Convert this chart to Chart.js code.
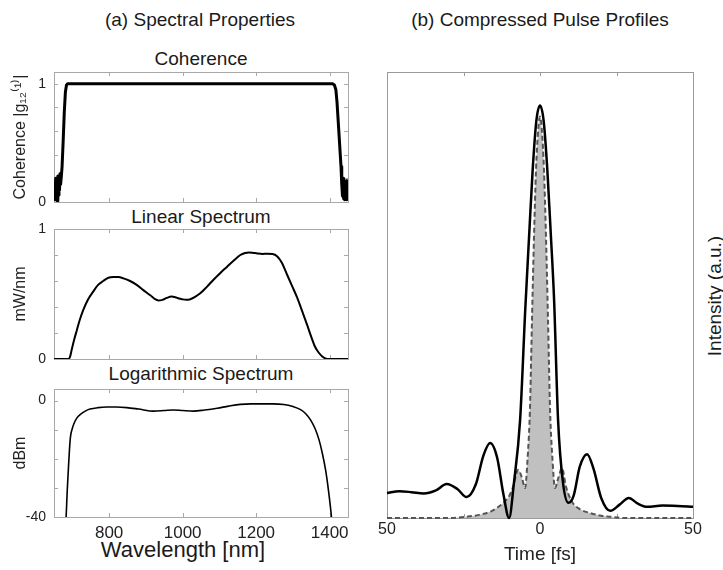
<!DOCTYPE html>
<html>
<head>
<meta charset="utf-8">
<script src="https://cdn.jsdelivr.net/npm/chart.js@4.4.1/dist/chart.umd.min.js"></script>
<style>
  html, body { margin: 0; padding: 0; background: #fff; }
  #wrap { position: relative; width: 723px; height: 570px; overflow: hidden;
          font-family: "Liberation Sans", Arial, sans-serif; color: #1a1a1a; }
  canvas { position: absolute; }
  .t { position: absolute; white-space: nowrap; line-height: 1; font-size: 19px;
       transform: translate(-50%, -50%); }
  .rot { transform: translate(-50%, -50%) rotate(-90deg); }
</style>
</head>
<body>
<div id="wrap">
  <div class="t" style="left:200px;top:19px">(a) Spectral Properties</div>
  <div class="t" style="left:540px;top:19px">(b) Compressed Pulse Profiles</div>
  <div class="t" style="left:201px;top:58px">Coherence</div>
  <div class="t" style="left:201px;top:216px">Linear Spectrum</div>
  <div class="t" style="left:201px;top:373px">Logarithmic Spectrum</div>
  <div class="t" style="left:183px;top:550px;font-size:22px">Wavelength [nm]</div>
  <div class="t rot" style="left:714px;top:296px">Intensity (a.u.)</div>
  <canvas id="cCoh" width="360" height="179" style="left:0;top:40px"></canvas>
  <canvas id="cLin" width="360" height="166" style="left:0;top:210px"></canvas>
  <canvas id="cLog" width="360" height="200" style="left:0;top:370px"></canvas>
  <canvas id="cPulse" width="363" height="530" style="left:360px;top:40px"></canvas>
</div>
<script>
// ---- tick positions and labels ----
const wavelengthTicks = [800, 1000, 1200, 1400];
const wavelengthTickLabels = ['800', '1000', '1200', '1400'];
const unitTicks = [0, 0.2, 0.4, 0.6, 0.8, 1];
const unitTickLabels = ['0', '', '', '', '', '1'];
const dbmTicks = [-40, -30, -20, -10, 0];
const dbmTickLabels = ['-40', '', '', '', '0'];
const timeTicks = [-50, -25, 0, 25, 50];
const timeTickLabels = ['50', '', '0', '', '50'];

// ---- first-order coherence |g12(1)| vs wavelength ----
const cohWavelength = [650, 651.5, 653, 654.5, 656, 657.5, 659, 660.5, 662, 663.5, 665, 666.5, 668,
  670, 672, 675, 678, 681, 684, 687, 700, 800, 900, 1000, 1100, 1200, 1300, 1400,
  1408, 1413, 1417, 1420, 1424, 1428, 1431, 1433, 1435,
  1436.5, 1438, 1439.5, 1441, 1442.5, 1444, 1445.5, 1447, 1448.5, 1450];
const cohValue = [0.03, 0.17, 0.02, 0.2, 0.05, 0.14, 0.01, 0.22, 0.06, 0.18, 0.1, 0.24, 0.15,
  0.22, 0.3, 0.52, 0.76, 0.93, 0.99, 1, 1, 1, 1, 1, 1, 1, 1, 1,
  1, 0.99, 0.95, 0.85, 0.65, 0.45, 0.3, 0.15, 0.05,
  0.2, 0.03, 0.17, 0.02, 0.12, 0.04, 0.18, 0.02, 0.14, 0.03];

// ---- linear spectrum (mW/nm) ----
const linWavelength = [650, 680, 689, 694, 698, 705, 712, 720, 730, 743,
  757, 770, 784, 798, 812, 825, 839, 857, 875, 893,
  912, 925, 934, 945, 957, 970, 980, 990, 998, 1010,
  1021, 1035, 1048, 1066, 1084, 1102, 1121, 1140, 1157, 1170,
  1180, 1190, 1203, 1218, 1230, 1245, 1257, 1270, 1284, 1298,
  1312, 1325, 1339, 1350, 1361, 1370, 1380, 1390, 1400, 1450];
const linPower = [0, 0, 0, 0.02, 0.07, 0.15, 0.22, 0.30, 0.38, 0.46,
  0.52, 0.57, 0.60, 0.625, 0.63, 0.63, 0.62, 0.60, 0.57, 0.53,
  0.49, 0.46, 0.45, 0.455, 0.47, 0.48, 0.475, 0.465, 0.46, 0.455,
  0.46, 0.48, 0.505, 0.555, 0.61, 0.66, 0.71, 0.76, 0.80, 0.815,
  0.82, 0.818, 0.812, 0.808, 0.81, 0.808, 0.79, 0.74, 0.65, 0.56,
  0.47, 0.37, 0.26, 0.17, 0.09, 0.05, 0.02, 0.003, 0, 0];

// ---- logarithmic spectrum (dBm) ----
const logWavelength = [678, 683, 686, 689, 692, 695, 700, 705, 712, 721,
  735, 748, 770, 793, 820, 848, 880, 921, 950, 975,
  1000, 1030, 1060, 1094, 1125, 1157, 1185, 1212, 1245, 1275,
  1300, 1321, 1335, 1348, 1360, 1371, 1380, 1389, 1397, 1405, 1410];
const logPower = [-52, -40, -31, -23.8, -17, -12.3, -9.5, -7.7, -6, -4.8,
  -3.6, -2.9, -2.4, -2.2, -2.2, -2.4, -2.9, -3.6, -3.4, -3.2,
  -3.4, -3.6, -3.2, -2.6, -1.9, -1.3, -1.1, -1.1, -1.1, -1.3,
  -2.0, -3.1, -4.5, -6.6, -9.5, -13.4, -18, -23.8, -31, -40, -48];

// ---- compressed pulse, solid trace ----
const pulseTimeA = [-50, -46, -42, -38, -34, -30.5, -27, -24, -21, -18.5,
  -16.3, -14, -12, -10.1, -8.5, -6.5, -4.8, -3.5, -2.4, -1.2,
  0, 1.2, 2.4, 3.5, 4.6, 5.9, 7.5, 9.3, 11, 13,
  15.4, 17.5, 20, 23, 26, 29, 32, 35, 40, 45, 50];
const pulseIntensityA = [0.056, 0.06, 0.058, 0.055, 0.062, 0.076, 0.065, 0.047, 0.075, 0.14,
  0.168, 0.135, 0.055, 0, 0.08, 0.22, 0.47, 0.64, 0.78, 0.89,
  0.925, 0.89, 0.78, 0.64, 0.49, 0.22, 0.08, 0.034, 0.05, 0.115,
  0.143, 0.11, 0.045, 0.016, 0.03, 0.045, 0.032, 0.025, 0.028, 0.027, 0.025];

// ---- compressed pulse, dashed trace (shaded) ----
const pulseTimeB = [-50, -30, -25, -20, -16, -12, -10, -8.8, -7.1, -5.9,
  -4.9, -4, -3.3, -2.6, -2, -1.3, -0.6, 0, 0.6, 1.3,
  2, 2.6, 3.3, 4, 4.9, 6, 7.2, 8.5, 10.5, 13,
  16.5, 20, 23, 27, 50];
const pulseIntensityB = [0, 0, 0.002, 0.007, 0.015, 0.034, 0.05, 0.07, 0.108, 0.09,
  0.067, 0.14, 0.24, 0.45, 0.62, 0.78, 0.87, 0.90, 0.87, 0.78,
  0.62, 0.45, 0.24, 0.14, 0.067, 0.09, 0.112, 0.07, 0.036, 0.02,
  0.011, 0.005, 0.003, 0, 0];

const FONT = '"Liberation Sans", Arial, sans-serif';
Chart.defaults.font.family = FONT;
Chart.defaults.color = '#222';

const toPoints = (xs, ys) => xs.map((x, i) => ({ x: x, y: ys[i] }));

// Frame around the plot area with short inward tick marks on every side.
const framePlugin = {
  id: 'frame',
  beforeDatasetsDraw(chart, args, opts) {
    const { ctx, chartArea: a } = chart;
    const L = opts.len || 4;
    ctx.save();
    ctx.strokeStyle = opts.color || '#a0a0a0';
    ctx.lineWidth = 1;
    ctx.beginPath();
    if (opts.xMarks) {
      chart.scales.x.ticks.forEach(t => {
        const x = Math.round(chart.scales.x.getPixelForValue(t.value)) + 0.5;
        ctx.moveTo(x, a.top); ctx.lineTo(x, a.top + L);
        ctx.moveTo(x, a.bottom); ctx.lineTo(x, a.bottom - L);
      });
    }
    if (opts.yMarks) {
      chart.scales.y.ticks.forEach(t => {
        const y = Math.round(chart.scales.y.getPixelForValue(t.value)) + 0.5;
        ctx.moveTo(a.left, y); ctx.lineTo(a.left + L, y);
        ctx.moveTo(a.right, y); ctx.lineTo(a.right - L, y);
      });
    }
    ctx.stroke();
    ctx.strokeRect(Math.round(a.left) + 0.5, Math.round(a.top) + 0.5,
                   Math.round(a.right - a.left), Math.round(a.bottom - a.top));
    ctx.restore();
  }
};
Chart.register(framePlugin);

const baseOptions = () => ({
  responsive: false,
  animation: false,
  events: [],
  plugins: { legend: { display: false }, tooltip: { enabled: false } }
});

function spectrumPanel(id, cfg) {
  const opts = baseOptions();
  opts.layout = { padding: { left: 0, right: 12, top: cfg.padTop, bottom: cfg.padBottom } };
  opts.plugins.frame = { xMarks: true, yMarks: true, len: 4, color: '#a8a8a8' };
  opts.scales = {
    x: {
      type: 'linear', min: 650, max: 1450,
      afterBuildTicks: s => { s.ticks = wavelengthTicks.map(v => ({ value: v })); },
      afterFit: s => { s.height = cfg.xHeight; },
      grid: { display: false, drawTicks: false },
      border: { display: false },
      ticks: {
        display: cfg.showX, padding: 6, font: { size: 17 },
        callback: (v, i) => wavelengthTickLabels[i]
      }
    },
    y: {
      type: 'linear', min: cfg.yMin, max: cfg.yMax,
      afterBuildTicks: s => { s.ticks = cfg.yTicks.map(v => ({ value: v })); },
      afterFit: s => { s.width = 54; },
      grid: { display: false, drawTicks: false },
      border: { display: false },
      ticks: { padding: 8, font: { size: 14 }, callback: (v, i) => cfg.yLabels[i] },
      title: { display: true, text: cfg.yTitle, font: { size: 16 }, padding: { top: 11, bottom: 0 } }
    }
  };
  return new Chart(document.getElementById(id), {
    type: 'line',
    data: {
      datasets: [{
        data: toPoints(cfg.xs, cfg.ys),
        borderColor: '#000',
        borderWidth: cfg.lineWidth,
        pointRadius: 0,
        fill: false,
        tension: 0,
        cubicInterpolationMode: cfg.smooth ? 'monotone' : 'default',
        borderJoinStyle: 'round'
      }]
    },
    options: opts
  });
}

spectrumPanel('cCoh', {
  xs: cohWavelength, ys: cohValue, lineWidth: 3, smooth: false,
  yMin: 0, yMax: 1.1, yTicks: unitTicks, yLabels: unitTickLabels,
  yTitle: 'Coherence |g\u2081\u2082\u207D\u00B9\u207E|',
  padTop: 32, padBottom: 17, xHeight: 0, showX: false
});

spectrumPanel('cLin', {
  xs: linWavelength, ys: linPower, lineWidth: 2, smooth: true,
  yMin: 0, yMax: 1, yTicks: unitTicks, yLabels: unitTickLabels,
  yTitle: 'mW/nm',
  padTop: 19, padBottom: 17, xHeight: 0, showX: false
});

spectrumPanel('cLog', {
  xs: logWavelength, ys: logPower, lineWidth: 1.6, smooth: true,
  yMin: -40, yMax: 4, yTicks: dbmTicks, yLabels: dbmTickLabels,
  yTitle: 'dBm',
  padTop: 19, padBottom: 0, xHeight: 53, showX: true
});

// Pulse profiles panel
(function () {
  const opts = baseOptions();
  opts.layout = { padding: { left: 27, right: 30, top: 32, bottom: 0 } };
  opts.plugins.frame = { xMarks: true, yMarks: false, len: 4, color: '#9a9a9a' };
  opts.scales = {
    x: {
      type: 'linear', min: -50, max: 50,
      afterBuildTicks: s => { s.ticks = timeTicks.map(v => ({ value: v })); },
      afterFit: s => { s.height = 52; },
      grid: { display: false, drawTicks: false },
      border: { display: false },
      ticks: { padding: 2, font: { size: 16 }, maxRotation: 0, callback: (v, i) => timeTickLabels[i] },
      title: { display: true, text: 'Time [fs]', font: { size: 19 }, padding: { top: 0, bottom: 4 } }
    },
    y: { type: 'linear', min: 0, max: 1, display: false }
  };
  new Chart(document.getElementById('cPulse'), {
    type: 'line',
    data: {
      datasets: [
        {
          data: toPoints(pulseTimeA, pulseIntensityA),
          borderColor: '#000', borderWidth: 2.5, pointRadius: 0,
          fill: false, cubicInterpolationMode: 'monotone', order: 0, clip: 3
        },
        {
          data: toPoints(pulseTimeB, pulseIntensityB),
          borderColor: '#555', borderWidth: 2, borderDash: [5, 3], pointRadius: 0,
          backgroundColor: '#c0c0c0', fill: 'origin',
          cubicInterpolationMode: 'monotone', order: 1, clip: 3
        }
      ]
    },
    options: opts
  });
})();
</script>
</body>
</html>
